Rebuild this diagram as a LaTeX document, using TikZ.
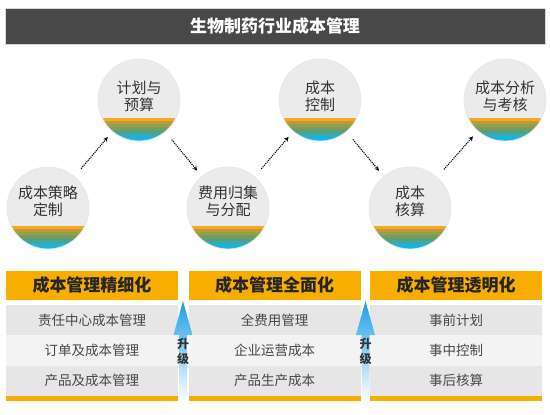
\documentclass[tikz,border=0pt]{standalone}
\usepackage{fontspec}
\setmainfont{Noto Sans CJK SC}
\usetikzlibrary{calc,positioning}
\definecolor{titlegray}{HTML}{484848}
\definecolor{circgray}{HTML}{EBEBEB}
\definecolor{bandorange}{HTML}{F6A81E}
\definecolor{bandolive}{HTML}{BC9C38}
\definecolor{bandgreen}{HTML}{5E9E70}
\definecolor{bandblue}{HTML}{10B6EE}
\definecolor{headorange}{HTML}{F7AE00}
\definecolor{rowgray}{HTML}{E6E6E6}
\definecolor{rowlight}{HTML}{F3F3F3}
\definecolor{upblue}{HTML}{1C9FE8}
\definecolor{textdark}{HTML}{333333}

\begin{document}
\begin{tikzpicture}[x=1pt,y=-1pt,
    stage/.style={circle,fill=circgray,draw=gray!18,line width=0.8pt,minimum size=82pt,inner sep=0pt,
      path picture={
        \foreach \col [count=\k] in {bandolive,bandolive!60!bandgreen,bandolive!25!bandgreen,
            bandgreen,bandgreen!45!bandblue,bandblue!85!bandgreen,bandblue}
          \fill[color=\col] ([yshift={(20-3*\k)*1pt}]path picture bounding box.south west)
            rectangle ([yshift={(23.3-3*\k)*1pt}]path picture bounding box.south east);
        \fill[bandorange] ([yshift=20pt]path picture bounding box.south west)
          rectangle ([yshift=23pt]path picture bounding box.south east);}},
    stagetext/.style={align=center,text=textdark,font=\fontsize{15}{17}\selectfont},
    flow/.style={densely dotted,line width=1.1pt,-stealth,shorten <=10pt,shorten >=7pt},
    head/.style={fill=headorange,minimum width=172pt,minimum height=29pt,inner sep=0pt,outer sep=0pt,
      text=black!85,font=\bfseries\fontsize{17}{20}\selectfont},
    cell/.style={minimum width=172pt,minimum height=30.33pt,inner sep=0pt,outer sep=0pt,
      text=black!72,font=\fontsize{13.5}{16}\selectfont},
    bar/.style={fill=headorange,minimum width=172pt,minimum height=5pt,inner sep=0pt,outer sep=0pt},
    uparrow/.style={top color=upblue,middle color=upblue!45,bottom color=white},
    uptext/.style={align=center,text=textdark,font=\bfseries\fontsize{12}{15}\selectfont}]

    \useasboundingbox (0,0) rectangle (550,415);

    % judul
    \node[fill=titlegray,draw=gray!30,minimum width=540pt,minimum height=36pt,text=white,
      font=\bfseries\fontsize{17}{20}\selectfont] (title) at (275,26) {生物制药行业成本管理};

    % lingkaran tahap
    \node[stage] (c1) at (48,208) {};
    \node[stage] (c2) at (139,100) {};
    \node[stage] (c3) at (228,208) {};
    \node[stage] (c4) at (320,100) {};
    \node[stage] (c5) at (410,208) {};
    \node[stage] (c6) at (505,100) {};
    \node[stagetext] (t1) at ([yshift=7pt]c1) {成本策略\\定制};
    \node[stagetext] (t2) at ([yshift=4pt]c2) {计划与\\预算};
    \node[stagetext] (t3) at ([yshift=7pt]c3) {费用归集\\与分配};
    \node[stagetext] (t4) at ([yshift=4pt]c4) {成本\\控制};
    \node[stagetext] (t5) at ([yshift=7pt]c5) {成本\\核算};
    \node[stagetext] (t6) at ([yshift=4pt]c6) {成本分析\\与考核};

    % panah titik-titik
    \draw[flow] (c1) -- (c2);
    \draw[flow] (c2) -- (c3);
    \draw[flow] (c3) -- (c4);
    \draw[flow] (c4) -- (c5);
    \draw[flow] (c5) -- (c6);

    % kolom tabel
    \node[head] (h1) at (92,285.5) {成本管理精细化};
    \node[cell,fill=rowgray] (r11) [below=5pt of h1] {责任中心成本管理};
    \node[cell,fill=rowlight] (r12) [below=0pt of r11] {订单及成本管理};
    \node[cell,fill=rowgray] (r13) [below=0pt of r12] {产品及成本管理};
    \node[bar] (b1) [below=0pt of r13] {};

    \node[head] (h2) at (274.5,285.5) {成本管理全面化};
    \node[cell,fill=rowgray] (r21) [below=5pt of h2] {全费用管理};
    \node[cell,fill=rowlight] (r22) [below=0pt of r21] {企业运营成本};
    \node[cell,fill=rowgray] (r23) [below=0pt of r22] {产品生产成本};
    \node[bar] (b2) [below=0pt of r23] {};

    \node[head] (h3) at (456,285.5) {成本管理透明化};
    \node[cell,fill=rowgray] (r31) [below=5pt of h3] {事前计划};
    \node[cell,fill=rowlight] (r32) [below=0pt of r31] {事中控制};
    \node[cell,fill=rowgray] (r33) [below=0pt of r32] {事后核算};
    \node[bar] (b3) [below=0pt of r33] {};

    % panah naik (升级)
    \shade[uparrow] (183,301) -- (192.5,335) -- (187,335) -- (187,401) -- (179,401) -- (179,335) -- (173.5,335) -- cycle;
    \shade[uparrow] (365.5,301) -- (375,335) -- (369.5,335) -- (369.5,401) -- (361.5,401) -- (361.5,335) -- (356,335) -- cycle;
    \node[uptext] (up1) at (183,351) {升\\级};
    \node[uptext] (up2) at (365.5,351) {升\\级};

\end{tikzpicture}
\end{document}
